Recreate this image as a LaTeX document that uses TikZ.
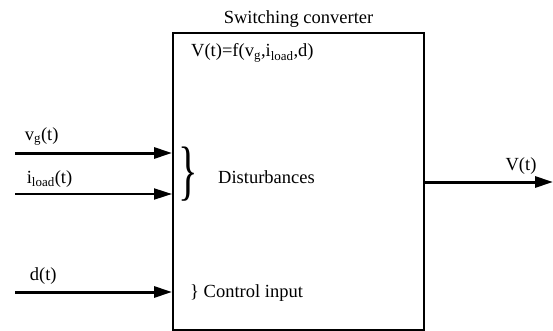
\documentclass[tikz,border=0pt]{standalone}
\usepackage{fontspec}
\setmainfont{Liberation Serif}
\usepackage{graphicx}
\usepackage{tikz}
\usetikzlibrary{arrows.meta, positioning, calc}
\tikzset{
  txt/.style={inner sep=0pt, font=\fontsize{18.5}{22}\selectfont},
  convbox/.style={rectangle, draw=black, line width=2pt, minimum width=251pt, minimum height=297pt},
  sig/.style={-{Triangle[length=18pt, width=11pt]}, line width=3pt},
  sigthin/.style={-{Triangle[length=18pt, width=11pt]}, line width=2pt},
}
\begin{document}
\begin{tikzpicture}[x=1pt, y=-1pt]
\useasboundingbox (0,0) rectangle (553,331);
\node[convbox] (conv) at (298.5,181.5) {};
\node[txt, above=4pt of conv] (title) {Switching converter};
\node[txt, anchor=base west] (func) at ($(conv.north west)+(19,25)$) {V(t)=f(v\textsubscript{g},i\textsubscript{load},d)};
\node[txt] (brace) at (188,174) {\scalebox{2.2}[3.55]{\}}};
\node[txt, anchor=west] (dist) at (218,177) {Disturbances};
\node[txt, anchor=west] (ctrl) at (190,293) {\} Control input};
% inputs
\coordinate (vgin) at (15,153);
\coordinate (iloadin) at (15,194);
\coordinate (din) at (15,292);
\coordinate (vout) at (553,182);
\draw[sig] (vgin) -- (vgin -| conv.west) node[txt, pos=0.17, above=6pt] (vglbl) {v\textsubscript{g}(t)};
\draw[sigthin] (iloadin) -- (iloadin -| conv.west) node[txt, pos=0.22, above=6pt] (iloadlbl) {i\textsubscript{load}(t)};
\draw[sig] (din) -- (din -| conv.west) node[txt, pos=0.18, above=6pt] (dlbl) {d(t)};
% output
\draw[sig] (vout -| conv.east) -- (vout) node[txt, pos=0.75, above=6pt] (voutlbl) {V(t)};
\end{tikzpicture}
\end{document}
